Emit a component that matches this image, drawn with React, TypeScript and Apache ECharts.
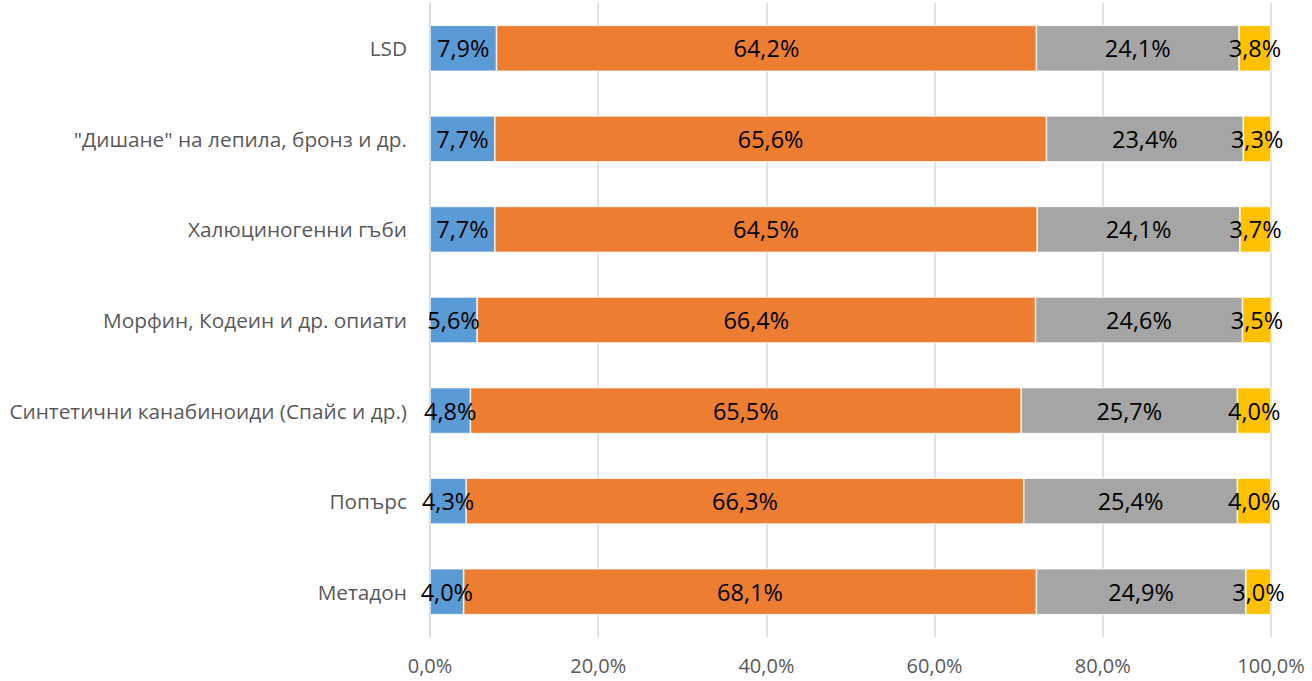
import React, { useEffect, useRef } from "react";
import * as echarts from "echarts";

const categories = [
  "LSD",
  "\"Дишане\" на лепила, бронз и др.",
  "Халюциногенни гъби",
  "Морфин, Кодеин и др. опиати",
  "Синтетични канабиноиди (Спайс и др.)",
  "Попърс",
  "Метадон",
];

const seriesBlue = [7.9, 7.7, 7.7, 5.6, 4.8, 4.3, 4.0];
const seriesOrange = [64.2, 65.6, 64.5, 66.4, 65.5, 66.3, 68.1];
const seriesGray = [24.1, 23.4, 24.1, 24.6, 25.7, 25.4, 24.9];
const seriesYellow = [3.8, 3.3, 3.7, 3.5, 4.0, 4.0, 3.0];

const seriesNames = ["s1", "s2", "s3", "s4"];
const seriesColors = ["#5B9BD5", "#ED7D31", "#A5A5A5", "#FFC000"];

const fmt = (v: number) => v.toFixed(1).replace(".", ",") + "%";

export default function App() {
  const ref = useRef<HTMLDivElement>(null);
  useEffect(() => {
    if (!ref.current) return;
    const chart = echarts.init(ref.current, undefined, { renderer: "svg" });
    const datasets = [seriesBlue, seriesOrange, seriesGray, seriesYellow];
    chart.setOption({
      animation: false,
      textStyle: { fontFamily: "Open Sans" },
      grid: { left: 430, right: 41, top: 3, bottom: 44, containLabel: false },
      xAxis: {
        type: "value",
        min: 0,
        max: 100,
        interval: 20,
        axisLine: { show: false },
        axisTick: { show: false },
        splitLine: { show: true, lineStyle: { color: "#D9D9D9", width: 1.5 } },
        axisLabel: {
          formatter: (v: number) => fmt(v),
          color: "#595959",
          fontSize: 20,
          fontFamily: "Open Sans",
          margin: 18,
        },
      },
      yAxis: {
        type: "category",
        data: categories,
        inverse: true,
        axisLine: { show: true, lineStyle: { color: "#D9D9D9", width: 1.5 } },
        axisTick: { show: false },
        axisLabel: {
          color: "#595959",
          fontSize: 20.8,
          fontFamily: "Open Sans",
          margin: 23,
        },
      },
      series: datasets.map((d, i) => ({
        name: seriesNames[i],
        type: "bar",
        stack: "total",
        barWidth: 46,
        data: d,
        itemStyle: { color: seriesColors[i], borderColor: "#FFFFFF", borderWidth: 0.7 },
        label: {
          show: true,
          position: "inside",
          color: "#000000",
          fontSize: 23.5,
          fontFamily: "Open Sans",
          formatter: (p: any) => fmt(p.value),
        },
      })),
    });
    return () => chart.dispose();
  }, []);
  return (
    <div
      ref={ref}
      style={{ position: "absolute", left: 0, top: 0, width: 1312, height: 681 }}
    />
  );
}
